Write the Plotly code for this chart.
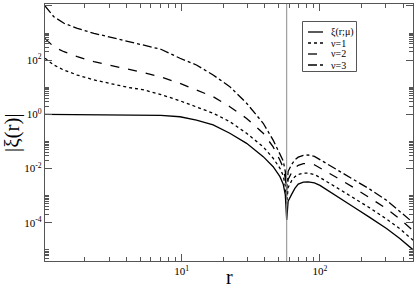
import plotly.graph_objects as go

# ---- data (r, |xi|) ----
r = [1.028, 1.19, 1.41, 1.76, 2.32, 3.07, 4.05, 5.33, 7.08, 9.73, 12.8, 16.9, 22.3,
     29.5, 38.9, 45.9, 51.4, 54.3, 56.2, 57.5, 58.9, 62.4, 65.9, 69.7, 75.9, 82.2,
     91.2, 100, 132, 174, 229, 303, 378, 473]

xi_mu = [1.0, 0.998, 0.995, 0.993, 0.991, 0.986, 0.977, 0.959, 0.923, 0.813, 0.617,
         0.407, 0.200, 0.0851, 0.0275, 0.0117, 0.00501, 0.00263, 0.00107, 0.000126,
         0.000631, 0.00112, 0.00186, 0.00269, 0.00316, 0.00324, 0.00295, 0.0024,
         0.001, 0.000389, 0.000158, 6.17e-5, 2.63e-5, 1.0e-5]

xi_nu1 = [117.0, 66.1, 42.7, 28.2, 18.6, 13.2, 10.0, 7.94, 5.37, 3.16, 1.91, 1.10,
          0.537, 0.200, 0.0631, 0.0240, 0.0102, 0.0054, 0.0022, 0.0005,
          0.0020, 0.00355, 0.00501, 0.00603, 0.00676, 0.00676, 0.00603, 0.00468,
          0.0020, 0.00087, 0.000355, 0.000138, 6.03e-5, 2.24e-5]

xi_nu2 = [631.0, 309.0, 204.0, 135.0, 87.1, 61.7, 46.8, 34.7, 24.0, 13.8, 7.94, 4.47,
          1.91, 0.708, 0.200, 0.0631, 0.0204, 0.0107, 0.00435, 0.001,
          0.00398, 0.00708, 0.0105, 0.0132, 0.0151, 0.0155, 0.0138, 0.0107,
          0.00468, 0.00204, 0.000851, 0.000331, 0.000138, 5.01e-5]

xi_nu3 = [10000.0, 3980.0, 2290.0, 1480.0, 977.0, 692.0, 525.0, 363.0, 251.0, 117.0,
          66.1, 28.2, 10.5, 2.57, 0.468, 0.112, 0.0363, 0.019, 0.0077, 0.0016,
          0.0079, 0.0141, 0.0209, 0.0263, 0.0309, 0.0316, 0.0282, 0.0214,
          0.00955, 0.00417, 0.00174, 0.000676, 0.000269, 0.0001]

r_zero = 57.5  # position of the vertical reference line

series_names = ["\u03be(r;\u03bc)", "\u03bd=1", "\u03bd=2", "\u03bd=3"]
series_dash = ["solid", "dot", "dash", "dashdot"]

x_tickvals = [10, 100]
x_ticktext = ["10<sup>1</sup>", "10<sup>2</sup>"]
x_minor = [2, 3, 4, 5, 6, 7, 8, 9, 20, 30, 40, 50, 60, 70, 80, 90, 200, 300, 400]

y_tickvals = [1e-4, 1e-2, 1, 1e2, 1e4]
y_ticktext = ["10<sup>-4</sup>", "10<sup>-2</sup>", "10<sup>0</sup>",
              "10<sup>2</sup>", "10<sup>4</sup>"]
y_minor = []
for base in [1e-6, 1e-4, 1e-2, 1, 1e2]:
    for k in range(2, 11):
        y_minor.append(base * k)

FONT = "Liberation Serif"
W, H = 415, 290
ML, MR, MT, MB = 45, 2, 4, 29
PW, PH = W - ML - MR, H - MT - MB


def px(xp):
    return (xp - ML) / PW


def py(yp):
    return (H - MB - yp) / PH


fig = go.Figure()
for ys, name, dash in zip([xi_mu, xi_nu1, xi_nu2, xi_nu3], series_names, series_dash):
    fig.add_trace(go.Scatter(x=r, y=ys, mode="lines", name=name, showlegend=False,
                             line=dict(color="black", width=1.3, dash=dash)))

fig.add_shape(type="line", xref="x", yref="paper", x0=r_zero, x1=r_zero, y0=0, y1=1,
              line=dict(color="#8a8a8a", width=1))

# compact legend box like the reference
fig.add_shape(type="rect", xref="paper", yref="paper",
              x0=px(302.5), x1=px(356.5), y0=py(71.5), y1=py(21.5),
              line=dict(color="#555555", width=1), fillcolor="white", layer="above")
for i, (name, dash) in enumerate(zip(series_names, series_dash)):
    yrow = 32 + i * 11
    fig.add_shape(type="line", xref="paper", yref="paper",
                  x0=px(308), x1=px(323), y0=py(yrow), y1=py(yrow),
                  line=dict(color="black", width=1.3, dash=dash), layer="above")
    fig.add_annotation(xref="paper", yref="paper", x=px(329), y=py(yrow),
                       xanchor="left", yanchor="middle", text=name, showarrow=False,
                       font=dict(family=FONT, size=10, color="black"))

axis_common = dict(type="log", showgrid=False, zeroline=False, showline=True,
                   linecolor="#555555", linewidth=1.3, mirror="ticks", ticks="inside",
                   ticklen=7, tickwidth=1, tickcolor="#555555", automargin=False,
                   tickfont=dict(family=FONT, size=11, color="black"))

fig.update_xaxes(**axis_common, range=[0.012, 2.673], tickmode="array",
                 tickvals=x_tickvals, ticktext=x_ticktext,
                 minor=dict(tickmode="array", tickvals=x_minor, ticks="inside",
                            ticklen=4, tickcolor="#555555", showgrid=False))
fig.update_yaxes(**axis_common, range=[-5.41, 4.07], tickmode="array",
                 tickvals=y_tickvals, ticktext=y_ticktext,
                 minor=dict(tickmode="array", tickvals=y_minor, ticks="inside",
                            ticklen=4, tickcolor="#555555", showgrid=False))

fig.add_annotation(xref="paper", yref="paper", x=px(230), y=py(290),
                   xanchor="center", yanchor="bottom", text="r", showarrow=False,
                   font=dict(family=FONT, size=20, color="black"))
fig.add_annotation(xref="paper", yref="paper", x=px(12), y=py(133),
                   xanchor="center", yanchor="middle", text="|\u03be(r)|", showarrow=False,
                   textangle=-90, font=dict(family=FONT, size=21, color="black"))

fig.update_layout(width=W, height=H, margin=dict(l=ML, r=MR, t=MT, b=MB),
                  plot_bgcolor="white", paper_bgcolor="white", showlegend=False)

fig.write_html("out.html", config={"displayModeBar": False},
               post_script="document.body.style.margin='0';"
                           "document.body.style.overflow='hidden';")
